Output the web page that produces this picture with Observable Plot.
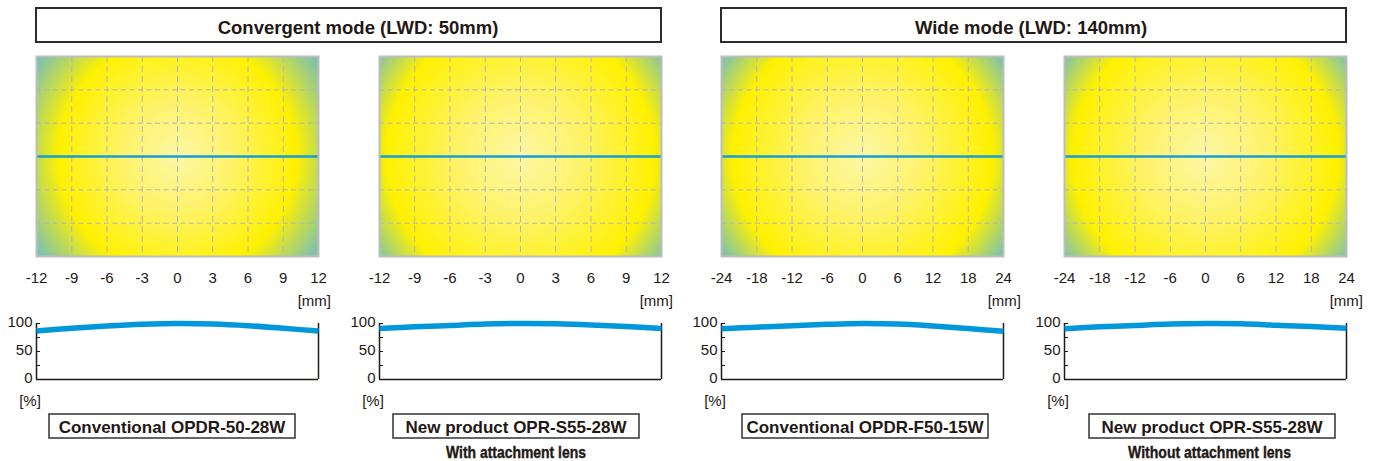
<!DOCTYPE html>
<html><head><meta charset="utf-8">
<script src="https://cdn.jsdelivr.net/npm/d3@7"></script>
<script src="https://cdn.jsdelivr.net/npm/@observablehq/plot@0.6"></script>
<style>
html,body{margin:0;padding:0;background:#fff;}
#root{position:relative;width:1379px;height:461px;overflow:hidden;font-family:"Liberation Sans",Arial,sans-serif;}
#root > svg{position:absolute;}
</style></head><body><div id="root"></div>
<script>
// ---- data ----
const modeTitles = ["Convergent mode (LWD: 50mm)", "Wide mode (LWD: 140mm)"];
const productNames = ["Conventional OPDR-50-28W", "New product OPR-S55-28W", "Conventional OPDR-F50-15W", "New product OPR-S55-28W"];
const productNotes = ["", "With attachment lens", "", "Without attachment lens"];
const xTicksConvergent = [-12, -9, -6, -3, 0, 3, 6, 9, 12];
const xTicksWide = [-24, -18, -12, -6, 0, 6, 12, 18, 24];
const rowLines = [-2, -1, 1, 2];
const centerLine = [0];
const pctTicks = [0, 25, 50, 75, 100];
const pctLabels = [0, 50, 100];
const xUnit = "[mm]";
const yUnit = "[%]";
// relative illuminance [%] along the centre line (read at each x tick)
const profileOPDR50 = [86.5, 91.5, 95.5, 98.5, 100, 99, 96, 91.5, 86.5];
const profileS55With = [91, 94, 96.5, 99, 100, 99.5, 97.5, 94.5, 91];
const profileOPDRF50 = [90.5, 93.5, 96, 98.5, 100, 99, 95.5, 91, 86];
const profileS55Without = [90.5, 94, 96.5, 99, 100, 99.5, 97, 94.5, 91.5];

// ---- layout / style ----
const panelLeft = [36, 379, 721, 1064];
const panelW = 282;
const heatTop = 56, heatH = 200;
const ringStop = [0.84, 0.95, 0.92, 0.94];
const greenStop = [1.18, 1.24, 1.2, 1.22];
const mmOffset = [13, 12, 18, 17];
const boxLeft = [49, 393, 742, 1089];
const ink = "#231815";
const font = '"Liberation Sans", Arial, sans-serif';

const panels = [
  {ticks: xTicksConvergent, profile: profileOPDR50},
  {ticks: xTicksConvergent, profile: profileS55With},
  {ticks: xTicksWide, profile: profileOPDRF50},
  {ticks: xTicksWide, profile: profileS55Without}
];

const root = document.getElementById("root");

// overlay for boxes and captions
const svg = d3.select(root).append("svg")
  .attr("width", 1379).attr("height", 461)
  .style("left", "0px").style("top", "0px")
  .style("font-family", font).style("fill", ink);

const headers = [
  {x: 36, w: 625, cx: 358, text: modeTitles[0]},
  {x: 721, w: 625, cx: 1031, text: modeTitles[1]}
];
headers.forEach(h => {
  svg.append("rect").attr("x", h.x).attr("y", 8).attr("width", h.w).attr("height", 34)
    .attr("fill", "#fff").attr("stroke", "#2b2b2b").attr("stroke-width", 2);
  svg.append("text").attr("x", h.cx).attr("y", 34).attr("text-anchor", "middle")
    .attr("font-weight", "bold").attr("font-size", 18.5).attr("fill", ink).text(h.text);
});

panels.forEach((p, i) => {
  const left = panelLeft[i], right = left + panelW;
  svg.append("text").attr("x", right + mmOffset[i]).attr("y", 306).attr("text-anchor", "end")
    .attr("font-size", 15).attr("fill", ink).text(xUnit);
  svg.append("text").attr("x", left - 6).attr("y", 406).attr("text-anchor", "middle")
    .attr("font-size", 15).attr("fill", ink).text(yUnit);
  svg.append("rect").attr("x", boxLeft[i]).attr("y", 414).attr("width", 246).attr("height", 24)
    .attr("fill", "#fff").attr("stroke", "#333").attr("stroke-width", 1.5);
  svg.append("text").attr("x", boxLeft[i] + 123).attr("y", 433).attr("text-anchor", "middle")
    .attr("font-weight", "bold").attr("font-size", 17).attr("fill", ink).text(productNames[i]);
  if (productNotes[i]) {
    svg.append("text").attr("x", i === 1 ? 516 : 1209.5).attr("y", 458).attr("text-anchor", "middle")
      .attr("font-weight", "bold").attr("font-size", 17).attr("fill", ink)
      .attr("stroke", ink).attr("stroke-width", 0.4)
      .attr("textLength", i === 1 ? 140 : 163).attr("lengthAdjust", "spacingAndGlyphs")
      .text(productNotes[i]);
  }
});

function place(el, left, top) {
  el.style.position = "absolute";
  el.style.left = left + "px";
  el.style.top = top + "px";
  root.appendChild(el);
}

const fmt = d => String(d);

panels.forEach((p, i) => {
  const xMax = p.ticks[p.ticks.length - 1];
  const inner = p.ticks.slice(1, -1);
  const aspect = heatH / panelW;
  const ring = ringStop[i];
  const heat = Plot.plot({
    width: panelW + 40, height: heatH + 2 + 40,
    marginLeft: 20, marginRight: 20, marginTop: 2, marginBottom: 40,
    style: {fontFamily: font, fontSize: "15px", color: ink, background: "transparent", overflow: "visible"},
    x: {domain: [-xMax, xMax], axis: null},
    y: {domain: [-3, 3], axis: null},
    color: {type: "linear", domain: [0, ring * 0.45, ring, greenStop[i]], range: ["#fdf7a6", "#fef36c", "#fff100", "#82c4aa"], clamp: true},
    marks: [
      Plot.raster({x1: -xMax, x2: xMax, y1: -3, y2: 3, pixelSize: 1,
        fill: (x, y) => Math.hypot(x / xMax, (y / 3) * aspect)}),
      Plot.ruleX(inner, {stroke: "#b4b4bc", strokeWidth: 1, strokeDasharray: "6,4"}),
      Plot.ruleY(rowLines, {stroke: "#b4b4bc", strokeWidth: 1, strokeDasharray: "5,3.5"}),
      Plot.ruleY(centerLine, {stroke: "#139ed8", strokeWidth: 2.5}),
      Plot.frame({stroke: "#bdbdbd", strokeWidth: 2}),
      Plot.axisX(p.ticks, {anchor: "bottom", tickSize: 0, tickPadding: 16, fontSize: 15, tickFormat: fmt, fill: ink, label: null})
    ]
  });
  place(heat, panelLeft[i] - 20, heatTop - 2);

  const data = p.ticks.map((x, k) => ({x, v: p.profile[k]}));
  const prof = Plot.plot({
    width: panelW + 55, height: 70,
    marginLeft: 45, marginRight: 10, marginTop: 7, marginBottom: 7,
    style: {fontFamily: font, fontSize: "15px", color: ink, background: "transparent", overflow: "visible"},
    x: {domain: [-xMax, xMax], axis: null},
    y: {domain: [0, 100], axis: null},
    marks: [
      Plot.ruleX([p.ticks[0]], {y1: 0, y2: 100, stroke: ink, strokeWidth: 1.5}),
      Plot.ruleX([xMax], {y1: 0, y2: 100, stroke: ink, strokeWidth: 1.5}),
      Plot.ruleY([0], {stroke: ink, strokeWidth: 1.5}),
      Plot.axisY(pctTicks, {anchor: "left", tickSize: -4, tickFormat: () => "", stroke: ink, label: null}),
      Plot.axisY(pctLabels, {anchor: "left", tickSize: 0, tickPadding: 4, fontSize: 15, dy: -1.5, tickFormat: fmt, fill: ink, label: null}),
      Plot.line(data, {x: "x", y: "v", stroke: "#0097db", strokeWidth: 5.5, curve: "catmull-rom", strokeLinecap: "butt"})
    ]
  });
  place(prof, panelLeft[i] - 45, 316);
});
</script></body></html>
